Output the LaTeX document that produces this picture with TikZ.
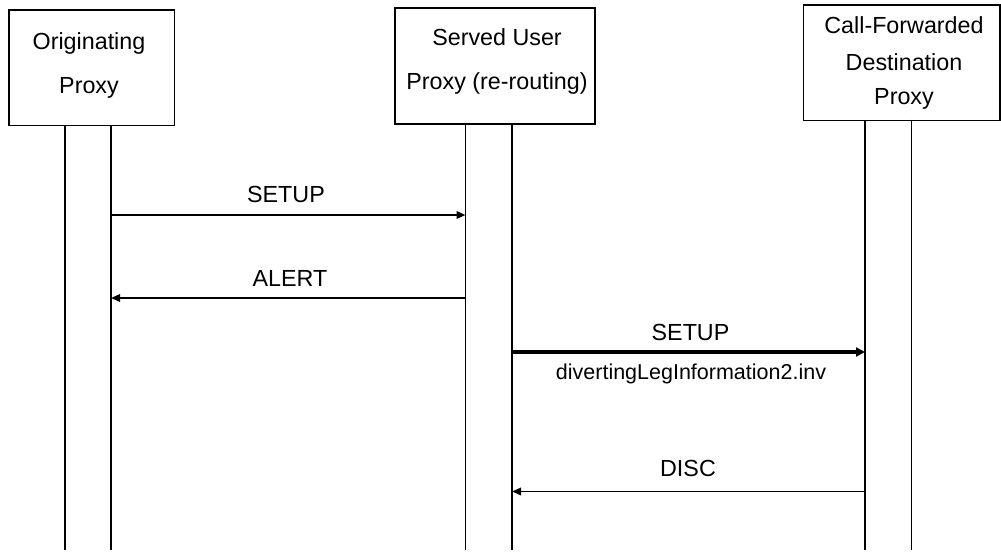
\documentclass[tikz,border=0pt]{standalone}
\usepackage{fontspec}
\setmainfont{Liberation Sans}
\usetikzlibrary{arrows.meta}
\begin{document}
\begin{tikzpicture}[x=1pt,y=-1pt,
  ent/.style={draw,line width=1.6pt,rectangle,inner sep=0pt,anchor=north west},
  lbl/.style={font=\fontsize{23.3}{28}\selectfont,inner sep=0pt,anchor=base},
  small/.style={font=\fontsize{21.5}{26}\selectfont,inner sep=0pt,anchor=base},
  life/.style={line width=1.7pt},
  msg/.style={line width=1.8pt,-{Triangle[length=9pt,width=7.5pt]}},
  bigmsg/.style={line width=4.2pt,-{Triangle[length=9pt,width=9pt]}}]
\useasboundingbox (0,0) rectangle (1001,554);
% boxes
\node[ent,minimum width=165.5pt,minimum height=115.5pt] (b1) at (8.3,9.3) {};
\node[ent,minimum width=200pt,minimum height=116pt] (b2) at (394,7.3) {};
\node[ent,minimum width=196.5pt,minimum height=115.5pt] (b3) at (802.5,4) {};
\node[lbl] (t1a) at (89,49) {Originating};
\node[lbl] (t1b) at (89,93) {Proxy};
\node[lbl] (t2a) at (497,45) {Served User};
\node[lbl] (t2b) at (497,89) {Proxy (re-routing)};
\node[lbl] (t3a) at (904,33.3) {Call-Forwarded};
\node[lbl] (t3b) at (904,70.7) {Destination};
\node[lbl] (t3c) at (904,104) {Proxy};
% lifelines
\coordinate (l1t) at (65,125); \coordinate (l1b) at (65,550);
\coordinate (l2t) at (111,125); \coordinate (l2b) at (111,550);
\coordinate (l3t) at (465.5,123.3); \coordinate (l3b) at (465.5,550);
\coordinate (l4t) at (512,123.3); \coordinate (l4b) at (512,550);
\coordinate (l5t) at (865,119.5); \coordinate (l5b) at (865,550);
\coordinate (l6t) at (911.5,119.5); \coordinate (l6b) at (911.5,550);
\foreach \i in {1,...,6} {\draw[life] (l\i t) -- (l\i b);}
% messages
\coordinate (m1s) at (111,215); \coordinate (m1e) at (465.5,215);
\coordinate (m2s) at (465.5,298); \coordinate (m2e) at (111,298);
\coordinate (m3s) at (512,352); \coordinate (m3e) at (865,352);
\coordinate (m4s) at (865,491.5); \coordinate (m4e) at (512,491.5);
\draw[msg] (m1s) -- (m1e);
\draw[msg] (m2s) -- (m2e);
\draw[bigmsg] (m3s) -- (m3e);
\draw[msg] (m4s) -- (m4e);
\node[lbl] (n1) at (286,202.7) {SETUP};
\node[lbl] (n2) at (290,286) {ALERT};
\node[lbl] (n3) at (690.5,340) {SETUP};
\node[small] (n4) at (691,379) {divertingLegInformation2.inv};
\node[lbl] (n5) at (688,476) {DISC};
\end{tikzpicture}
\end{document}
